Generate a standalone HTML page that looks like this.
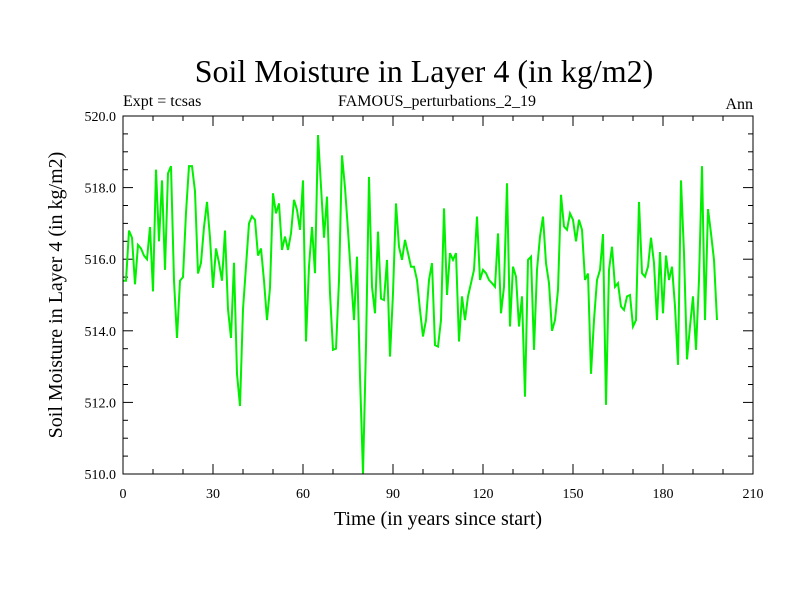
<!DOCTYPE html>
<html><head><meta charset="utf-8"><style>
body{margin:0;background:#fff}
svg text{font-family:"Liberation Serif",serif;fill:#000}
</style></head><body>
<svg id="chart" width="800" height="600" viewBox="0 0 800 600" xmlns="http://www.w3.org/2000/svg">
<rect width="800" height="600" fill="#fff"/>
<text x="424" y="82" font-size="32" text-anchor="middle">Soil Moisture in Layer 4 (in kg/m2)</text>
<text x="123" y="106" font-size="16">Expt = tcsas</text>
<text x="437" y="106" font-size="16" text-anchor="middle">FAMOUS_perturbations_2_19</text>
<text x="753" y="109" font-size="16" text-anchor="end">Ann</text>
<text x="438" y="525" font-size="20" text-anchor="middle">Time (in years since start)</text>
<text transform="translate(62,295) rotate(-90)" font-size="20" text-anchor="middle">Soil Moisture in Layer 4 (in kg/m2)</text>
<g id="axes"></g>
<g id="series"></g>
<rect x="123" y="116" width="630" height="358" fill="none" stroke="#000" stroke-width="1"/>
</svg>
<script>
const years0 = 0;
const values = [515.4,515.4,516.8,516.6,515.3,516.4,516.3,516.1,516.0,516.9,
515.1,518.5,516.5,518.2,515.7,518.4,518.6,515.4,513.8,515.4,
515.5,517.3,518.6,518.6,517.9,515.6,515.9,516.9,517.6,516.6,
515.2,516.3,515.9,515.4,516.8,514.6,513.8,515.9,512.8,511.9,
514.6,515.8,517.0,517.2,517.1,516.1,516.3,515.4,514.3,515.2,
517.84,517.28,517.56,516.26,516.63,516.26,516.72,517.66,517.38,516.82,
518.2,513.7,515.8,516.9,515.61,519.47,518.03,516.6,517.75,515.05,
513.47,513.5,515.4,518.9,518.0,516.8,515.51,514.3,516.07,512.72,
510.02,513.56,518.3,515.23,514.49,516.77,514.9,514.86,515.98,513.28,
515.05,517.56,516.35,515.98,516.54,516.17,515.79,515.79,515.42,514.58,
513.84,514.3,515.42,515.89,513.6,513.56,514.3,517.42,515.0,516.17,
515.98,516.17,513.7,514.96,514.3,514.96,515.33,515.7,517.19,515.42,
515.7,515.61,515.42,515.33,515.23,516.72,514.49,515.23,518.12,514.12,
515.79,515.51,514.12,514.96,512.16,515.98,516.07,513.47,515.7,516.63,
517.19,515.89,515.33,514.0,514.3,515.14,517.8,516.91,516.82,517.28,
517.1,516.5,517.1,516.82,515.42,515.6,512.8,514.3,515.42,515.7,
516.7,511.93,515.7,516.35,515.23,515.33,514.68,514.58,514.96,515.0,
514.12,514.3,517.6,515.61,515.51,515.79,516.6,515.89,514.3,516.2,
514.49,516.1,515.42,515.79,514.68,513.05,518.2,516.17,513.2,514.12,
514.96,513.47,515.42,518.6,514.3,517.4,516.72,515.98,514.3];
const xTicks = [0,30,60,90,120,150,180,210];
const yTicks = [510,512,514,516,518,520];
const xMin=0,xMax=210,yMin=510,yMax=520;
const L=123,R=753,T=116,B=474;
const sx=v=>L+(v-xMin)/(xMax-xMin)*(R-L);
const sy=v=>B-(v-yMin)/(yMax-yMin)*(B-T);
const NS="http://www.w3.org/2000/svg";
const ax=document.getElementById('axes');
function ln(x1,y1,x2,y2){const l=document.createElementNS(NS,'line');l.setAttribute('x1',x1);l.setAttribute('y1',y1);l.setAttribute('x2',x2);l.setAttribute('y2',y2);l.setAttribute('stroke','#000');l.setAttribute('stroke-width','1');ax.appendChild(l);return l;}
for(let v=xMin;v<=xMax;v+=10){const x=sx(v);const len=(v%30===0)?10:5;
let t=ln(x,B,x,B-len);


t=ln(x,T,x,T+len);

}
for(let v=yMin;v<=yMax+1e-9;v+=0.5){const y=sy(v);const major=Math.abs(v-Math.round(v/2)*2)<1e-6;const len=major?10:5;
let t=ln(L,y,L+len,y);


t=ln(R,y,R-len,y);

}
xTicks.forEach(v=>{const t=document.createElementNS(NS,'text');t.setAttribute('x',sx(v));t.setAttribute('y',B+24);t.setAttribute('font-size','14');t.setAttribute('text-anchor','middle');t.textContent=v;


ax.appendChild(t);});
yTicks.forEach(v=>{const t=document.createElementNS(NS,'text');t.setAttribute('x',L-7);t.setAttribute('y',sy(v)+5);t.setAttribute('font-size','14');t.setAttribute('text-anchor','end');t.textContent=v.toFixed(1);


ax.appendChild(t);});
const pts=values.map((v,i)=>sx(years0+i).toFixed(1)+','+sy(Math.max(v,yMin)).toFixed(1)).join(' ');
const pl=document.createElementNS(NS,'polyline');
pl.setAttribute('points',pts);pl.setAttribute('fill','none');pl.setAttribute('stroke','#00f000');pl.setAttribute('stroke-width','2');


document.getElementById('series').appendChild(pl);
</script>
</body></html>
